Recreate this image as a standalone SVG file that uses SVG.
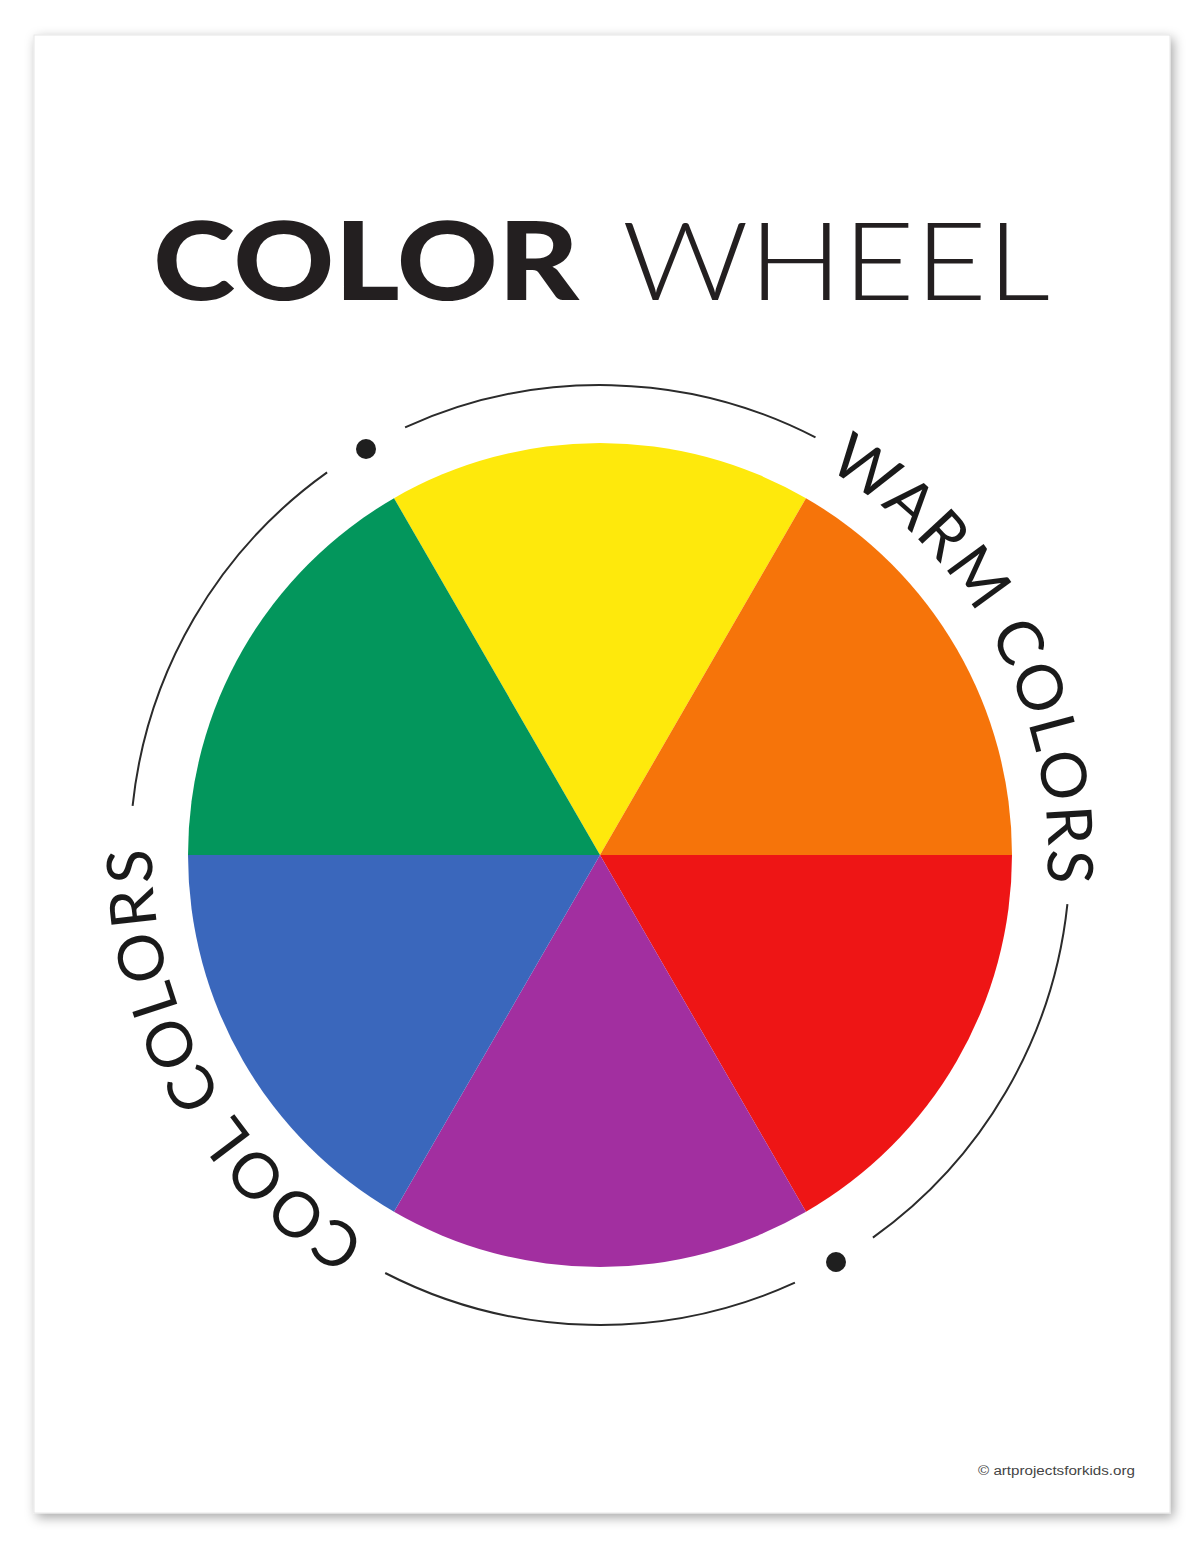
<svg xmlns="http://www.w3.org/2000/svg" width="1200" height="1553" viewBox="0 0 1200 1553">
  <style>
    .ring { fill: none; stroke: #2b2b2b; stroke-width: 2; }
    .dot { fill: #1f1f1f; }
    .arc-label { font-family: Lato, "Liberation Sans", sans-serif; font-weight: 400; font-size: 63px; letter-spacing: 3px; fill: #1a1a1a; }
    .seg { stroke: none; }
  </style>
  <defs>
    <filter id="pageShadow" x="-5%" y="-5%" width="110%" height="110%">
      <feDropShadow dx="3" dy="4" stdDeviation="6" flood-color="#000" flood-opacity="0.35"/>
    </filter>
    <path id="warmPath" d="M 522.2 413.8 A 448 448 0 0 1 1048 855 A 448 448 0 0 1 677.8 1296.2"/>
    <path id="coolPath" d="M 677.8 1296.2 A 448 448 0 0 1 152 855 A 448 448 0 0 1 522.2 413.8"/>
  </defs>

  <rect x="0" y="0" width="1200" height="1553" fill="#ffffff"/>
  <g id="page">
    <rect x="34" y="35" width="1136" height="1478" fill="#ffffff" stroke="#e6e6e6" stroke-width="1" filter="url(#pageShadow)"/>
  </g>

  <g id="title">
    <text x="153" y="300" textLength="426" lengthAdjust="spacingAndGlyphs" font-family="Lato, 'Liberation Sans', sans-serif" font-weight="900" font-size="109" fill="#231f20">COLOR</text>
    <text x="622" y="300" textLength="428" lengthAdjust="spacingAndGlyphs" font-family="Lato, 'Liberation Sans', sans-serif" font-weight="300" font-size="109" fill="#231f20">WHEEL</text>
  </g>

  <g id="wheel">
    <path id="seg-yellow" class="seg" fill="#fee90c" d="M600 855 L806 498.2 A412 412 0 0 0 394 498.2 Z"/>
    <path id="seg-orange" class="seg" fill="#f6740a" d="M600 855 L1012 855 A412 412 0 0 0 806 498.2 Z"/>
    <path id="seg-red" class="seg" fill="#ee1515" d="M600 855 L806 1211.8 A412 412 0 0 0 1012 855 Z"/>
    <path id="seg-purple" class="seg" fill="#a22fa0" d="M600 855 L394 1211.8 A412 412 0 0 0 806 1211.8 Z"/>
    <path id="seg-blue" class="seg" fill="#3a67bc" d="M600 855 L188 855 A412 412 0 0 0 394 1211.8 Z"/>
    <path id="seg-green" class="seg" fill="#03965c" d="M600 855 L394 498.2 A412 412 0 0 0 188 855 Z"/>
  </g>

  <g id="ring">
    <path class="ring" d="M405.1 427.3 A470 470 0 0 1 815.5 437.4"/>
    <path class="ring" d="M132.6 805.9 A470 470 0 0 1 327.1 472.4"/>
    <path class="ring" d="M794.9 1282.7 A470 470 0 0 1 385.2 1273.0"/>
    <path class="ring" d="M1067.4 904.1 A470 470 0 0 1 872.9 1237.6"/>
    <circle class="dot" cx="366" cy="449" r="10"/>
    <circle class="dot" cx="836" cy="1262" r="10"/>
  </g>

  <g id="warm-label">
    <text class="arc-label"><textPath href="#warmPath" startOffset="564" text-anchor="middle">WARM COLORS</textPath></text>
  </g>
  <g id="cool-label">
    <text class="arc-label"><textPath href="#coolPath" startOffset="557" text-anchor="middle">COOL COLORS</textPath></text>
  </g>

  <g id="credit">
    <text x="978" y="1475" textLength="157" lengthAdjust="spacingAndGlyphs" font-family="'Liberation Sans', sans-serif" font-size="12.5" fill="#444444">© artprojectsforkids.org</text>
  </g>
</svg>
